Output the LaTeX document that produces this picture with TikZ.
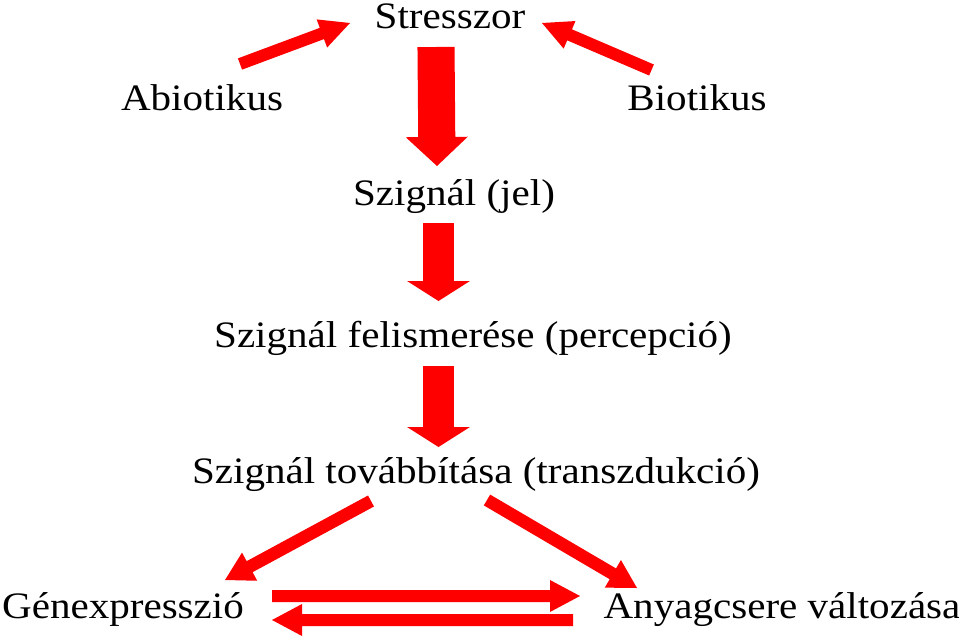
\documentclass[tikz,border=0pt]{standalone}
\usepackage{fontspec}
\setmainfont{Liberation Serif}[FakeStretch=1.1]
\usetikzlibrary{calc}
\definecolor{arrred}{RGB}{255,0,0}
\newcommand{\blockarr}[5]{%
  \coordinate (ba-c) at ($(#2)!#5!(#1)$);
  \fill[arrred] ($(#1)!#3!90:(#2)$) -- ($(ba-c)!#3!90:(#2)$) -- ($(ba-c)!#4!90:(#2)$) -- (#2)
    -- ($(ba-c)!#4!-90:(#2)$) -- ($(ba-c)!#3!-90:(#2)$) -- ($(#1)!#3!-90:(#2)$) -- cycle;
}
\begin{document}
\begin{tikzpicture}[x=0.75pt,y=-0.75pt,
  lbl/.style={anchor=base, inner sep=0pt, text=black, font=\fontsize{28}{32}\selectfont}]
\useasboundingbox[fill=white] (0,0) rectangle (959,639);
% labels
\node[lbl] (stress) at (450,28) {Stresszor};
\node[lbl] (abio) at (202,110) {Abiotikus};
\node[lbl] (bio) at (697,110) {Biotikus};
\node[lbl] (jel) at (454,205) {Szignál (jel)};
\node[lbl] (perc) at (473,347) {Szignál felismerése (percepció)};
\node[lbl] (trans) at (476,483) {Szignál továbbítása (transzdukció)};
\node[lbl] (gen) at (123,618) {Génexpresszió};
\node[lbl] (anyag) at (782,618) {Anyagcsere változása};
% arrow end points
\coordinate (abio-s) at (240,64);  \coordinate (abio-e) at (350,23);
\coordinate (bio-s) at (651.5,70); \coordinate (bio-e) at (542,23);
\coordinate (v1-s) at (436,47);    \coordinate (v1-e) at (437,166);
\coordinate (v2-s) at (438.5,223); \coordinate (v2-e) at (438.5,301);
\coordinate (v3-s) at (438.5,366); \coordinate (v3-e) at (438.5,447);
\coordinate (dl-s) at (371,501);   \coordinate (dl-e) at (225,580);
\coordinate (dr-s) at (487,500);   \coordinate (dr-e) at (637,588);
\coordinate (hr-s) at (272,596);   \coordinate (hr-e) at (580,596);
\coordinate (hl-s) at (573,620);   \coordinate (hl-e) at (272,620);
% arrows
\blockarr{abio-s}{abio-e}{4.5pt}{11.25pt}{22.5pt}
\blockarr{bio-s}{bio-e}{4.5pt}{11.25pt}{22.5pt}
\blockarr{v1-s}{v1-e}{13.9pt}{23.25pt}{21.75pt}
\blockarr{v2-s}{v2-e}{11.6pt}{23.6pt}{15pt}
\blockarr{v3-s}{v3-e}{11.6pt}{23.6pt}{15pt}
\blockarr{dl-s}{dl-e}{4.7pt}{12pt}{21pt}
\blockarr{dr-s}{dr-e}{4.7pt}{12pt}{21pt}
\blockarr{hr-s}{hr-e}{4.5pt}{12pt}{22.5pt}
\blockarr{hl-s}{hl-e}{4.5pt}{12pt}{22.5pt}
\end{tikzpicture}
\end{document}
